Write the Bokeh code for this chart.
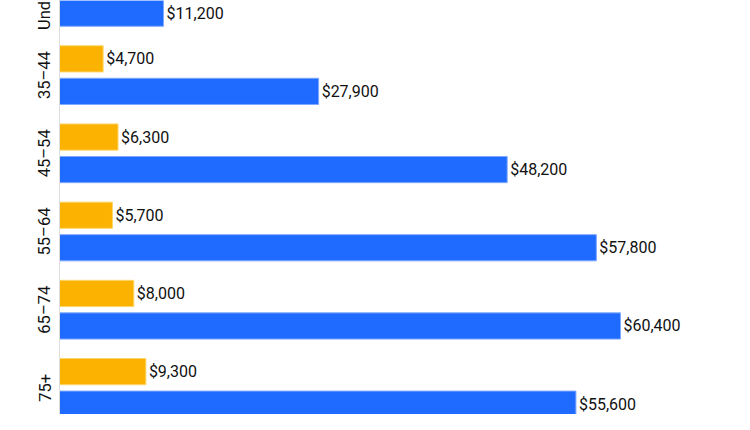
from bokeh.plotting import figure
from bokeh.models import ColumnDataSource, Range1d, Span
from bokeh.core.properties import value
from bokeh.embed import file_html
from bokeh.resources import INLINE
import math

groups = ["Under 35", "35–44", "45–54", "55–64", "65–74", "75+"]
series_a = [None, 4700, 6300, 5700, 8000, 9300]      # orange (top bar); first is off-picture
series_b = [11200, 27900, 48200, 57800, 60400, 55600]  # blue (bottom bar)

ORANGE = "#FBB200"
BLUE = "#1F6BFF"
FONT = "Roboto"
TXT = "#111111"

px_per_dollar = 0.009288
px_per_group = 78.2
fig_w, fig_h, axis_x = 734, 414, 59
label_gap = 15
top_i = 3.6 / px_per_group
offset = 0.208
bar_h = 0.335

p = figure(width=fig_w, height=fig_h, output_backend="svg", toolbar_location=None,
           x_range=Range1d(-axis_x / px_per_dollar, (fig_w - axis_x) / px_per_dollar),
           y_range=Range1d(top_i + fig_h / px_per_group, top_i),
           min_border=0)

idx = list(range(len(groups)))
ya = [i - offset for i in idx if series_a[i] is not None]
va = [series_a[i] for i in idx if series_a[i] is not None]
yb = [i + offset for i in idx]
vb = series_b

src_a = ColumnDataSource(dict(y=ya, v=va, t=["${:,}".format(v) for v in va]))
src_b = ColumnDataSource(dict(y=yb, v=vb, t=["${:,}".format(v) for v in vb]))
src_g = ColumnDataSource(dict(y=idx, x=[-label_gap / px_per_dollar] * len(idx), t=groups))

p.hbar(y="y", left=0, right="v", height=bar_h, source=src_a, fill_color=ORANGE,
       line_color="#FDD66A", line_width=1)
p.hbar(y="y", left=0, right="v", height=bar_h, source=src_b, fill_color=BLUE,
       line_color="#7FA8FF", line_width=1)

for src in (src_a, src_b):
    p.text(x="v", y="y", text="t", source=src, x_offset=3, text_baseline="middle",
           text_align="left", text_font=value(FONT), text_font_size="16px",
           text_color=TXT)

# category labels, rotated, left of the axis line
p.text(x="x", y="y", text="t", source=src_g, angle=math.pi / 2,
       text_align="center", text_baseline="middle", text_font=value(FONT),
       text_font_size="16.5px", text_color=TXT)

p.add_layout(Span(location=0, dimension="height", line_color="#dddddd", line_width=1))

p.xaxis.visible = False
p.yaxis.visible = False
p.xgrid.visible = False
p.ygrid.visible = False
p.outline_line_color = None

open("out.html", "w").write(file_html(p, INLINE))
